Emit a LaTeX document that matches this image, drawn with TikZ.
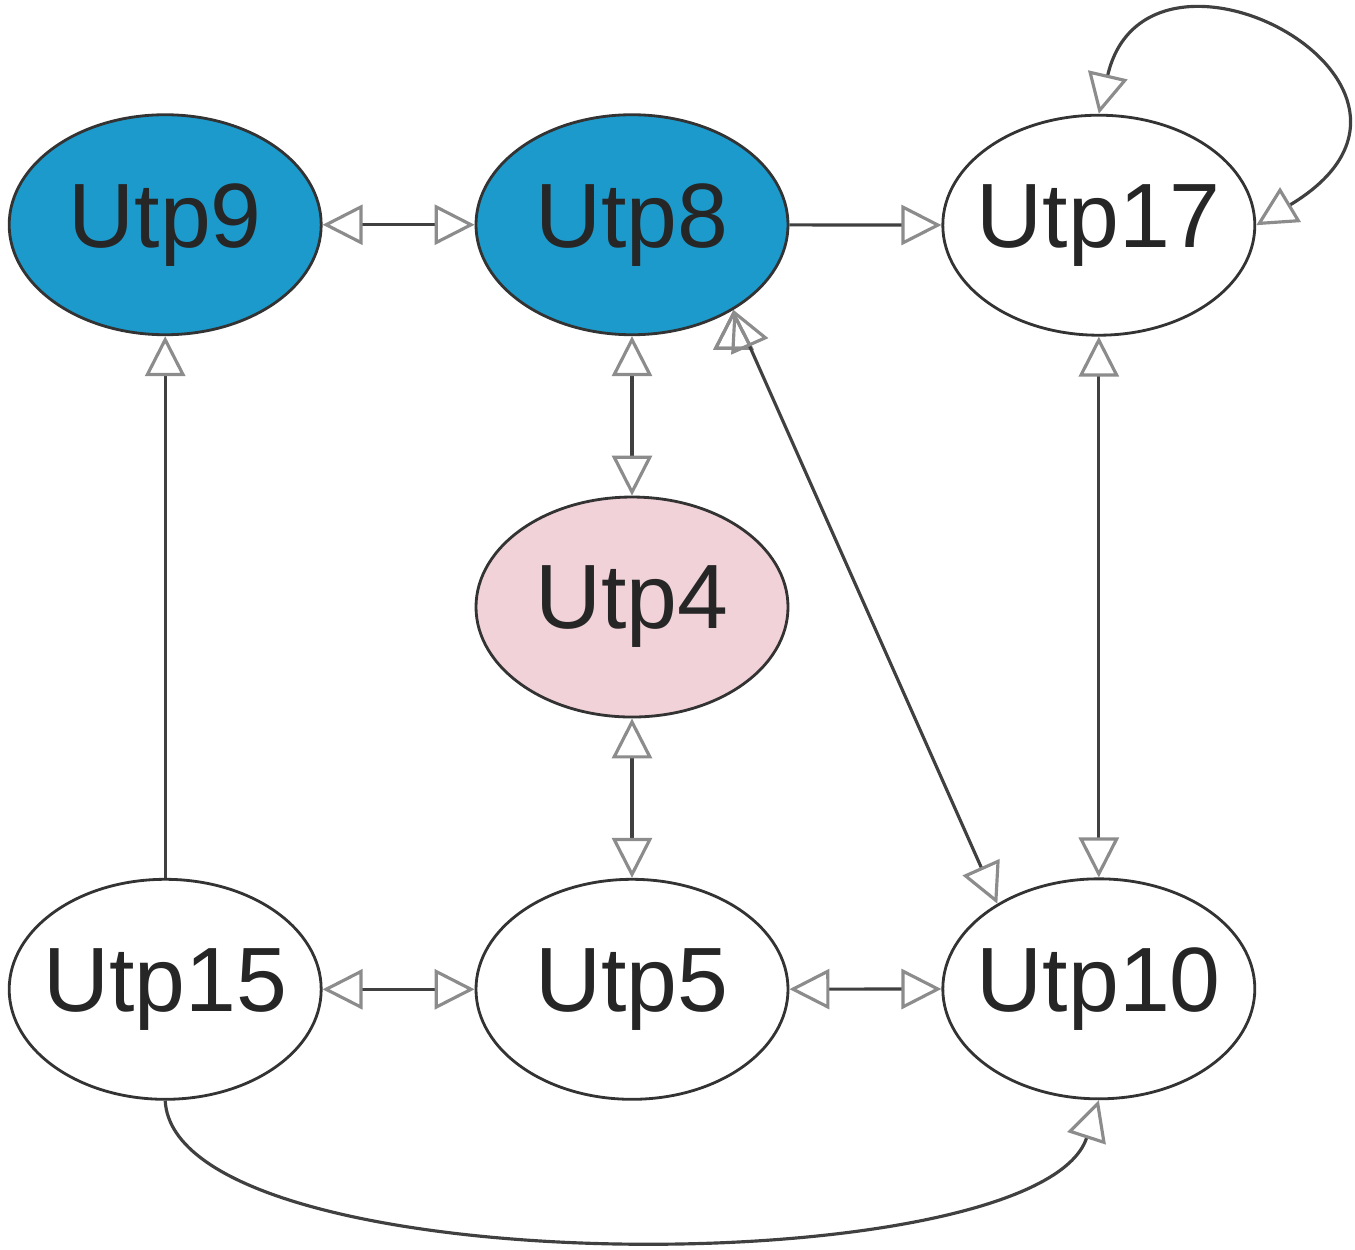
\documentclass[tikz,border=0pt]{standalone}
\usepackage{fontspec}
\setmainfont{Liberation Sans}
\usepackage{tikz}
\usetikzlibrary{matrix,shapes.geometric}
\usetikzlibrary{arrows.meta}

\definecolor{utpblue}{RGB}{28,154,204}
\definecolor{utppink}{RGB}{240,210,216}

\begin{document}
\begin{tikzpicture}[>={Triangle[open,length=4mm,width=4mm,color=black!45]}]
	\useasboundingbox (0,0) rectangle (13.55,-12.49);
	\matrix (m) at (6.32,-6.07) [matrix of nodes, row sep=1.59cm, column sep=1.52cm,
		nodes={ellipse, draw=black!80, line width=0.8pt, minimum width=3.12cm, minimum height=2.2cm, inner xsep=-0.5cm, inner ysep=-0.2cm, text=black!85, font=\fontsize{26}{30}\selectfont}]
	{
		|[fill=utpblue] (utp9)| Utp9  & |[fill=utpblue] (utp8)| Utp8 & |(utp17)| Utp17 \\
		& |[fill=utppink] (utp4)| Utp4 & \\
		|(utp15)| Utp15 & |(utp5)| Utp5 & |(utp10)| Utp10 \\
	};
	\path[<->, draw=black!75, line width=0.9pt]
	(utp9) edge (utp8)
	(utp8) edge (utp4)
	(utp4) edge (utp5)
	(utp15) edge (utp5)
	(utp5) edge (utp10)
	(utp17) edge (utp10)
	(utp8.-40) edge (utp10.140)
	;
	\path[->, draw=black!75, line width=0.9pt]
	(utp8) edge (utp17)
	(utp15) edge (utp9)
	;
	\draw[<->, black!75, line width=0.9pt]
	(utp17.north) .. controls +(0.48,2.08) and +(2.3,1.38) .. (utp17.east);
	\draw[->, black!75, line width=0.9pt]
	(utp15.south) .. controls +(0.1,-1.85) and +(-0.6,-1.85) .. (utp10.south);
\end{tikzpicture}
\end{document}
